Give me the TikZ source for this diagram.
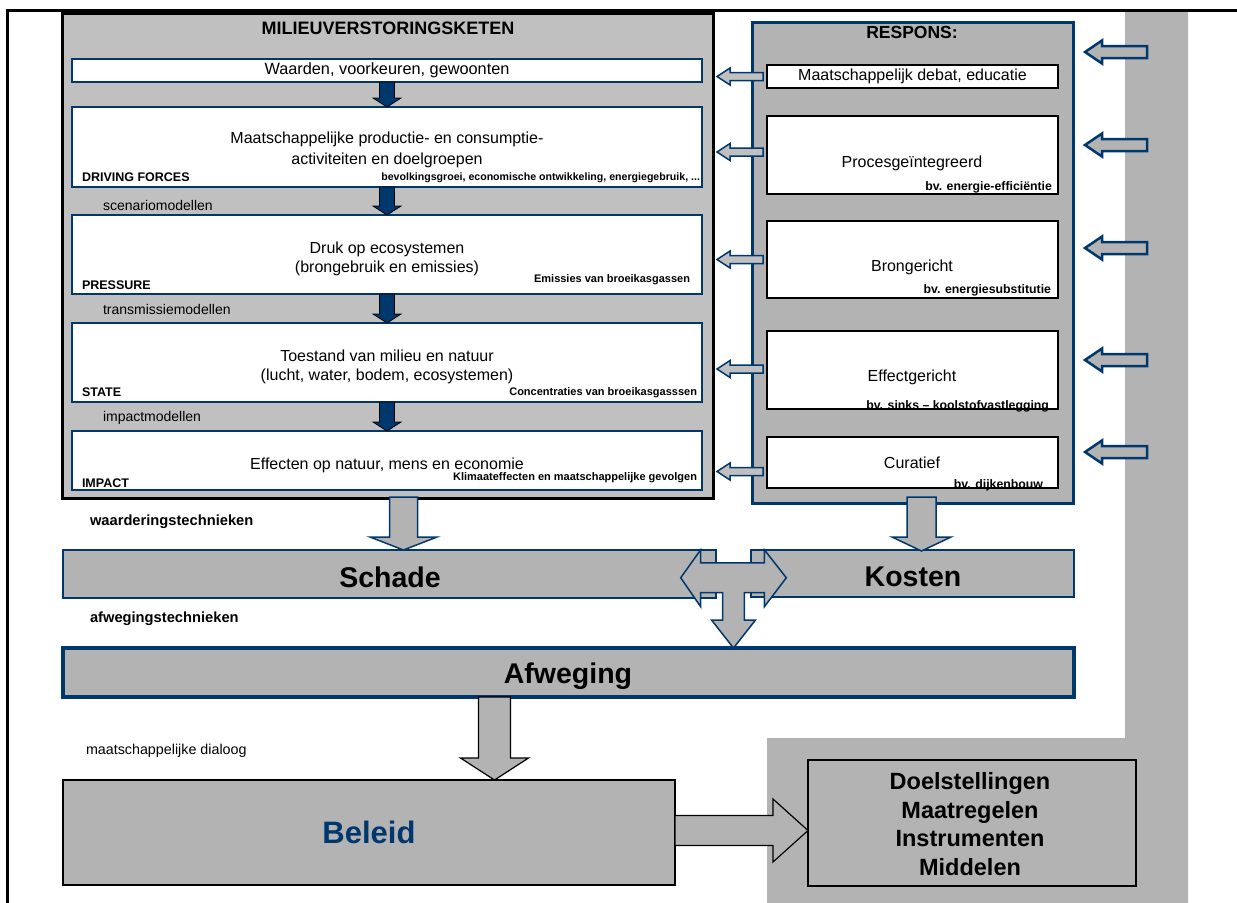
\documentclass[tikz,border=0pt]{standalone}
\usepackage{fontspec}
\setmainfont{Liberation Sans}
\usetikzlibrary{calc}

\definecolor{navy}{RGB}{0,56,110}
\definecolor{panelgray}{RGB}{192,192,192}
\definecolor{midgray}{RGB}{179,179,179}

\newcommand\fsz[2]{\fontsize{#1bp}{#2bp}\selectfont}

% block arrow pointing down: style, start (top centre), tip, half shaft, half head, head length
\newcommand\blockdown[6]{%
  \draw[#1] let \p1=(#2), \p2=(#3) in
    (\x1-#4,\y1) -- (\x1+#4,\y1) -- (\x1+#4,\y2+#6) -- (\x1+#5,\y2+#6) -- (\x1,\y2)
    -- (\x1-#5,\y2+#6) -- (\x1-#4,\y2+#6) -- cycle;}
% block arrow pointing left: style, tail (right end), tip, half shaft, half head, head length
\newcommand\blockleft[6]{%
  \draw[#1] let \p1=(#2), \p2=(#3) in
    (\x1,\y1-#4) -- (\x1,\y1+#4) -- (\x2+#6,\y1+#4) -- (\x2+#6,\y1+#5) -- (\x2,\y1)
    -- (\x2+#6,\y1-#5) -- (\x2+#6,\y1-#4) -- cycle;}
% block arrow pointing right: style, tail (left end), tip, half shaft, half head, head length
\newcommand\blockright[6]{%
  \draw[#1] let \p1=(#2), \p2=(#3) in
    (\x1,\y1-#4) -- (\x1,\y1+#4) -- (\x2-#6,\y1+#4) -- (\x2-#6,\y1+#5) -- (\x2,\y1)
    -- (\x2-#6,\y1-#5) -- (\x2-#6,\y1-#4) -- cycle;}

\tikzset{
  box/.style={draw, inner sep=0pt, outer sep=0pt, anchor=north west},
  chainpanel/.style={box, fill=panelgray, draw=black, line width=3bp},
  responspanel/.style={box, fill=midgray, draw=navy, line width=3bp},
  chainbox/.style={box, fill=white, draw=navy, line width=1.5bp, minimum width=630bp},
  respbox/.style={box, fill=white, draw=black, line width=1.5bp, minimum width=291bp},
  bar/.style={box, fill=midgray, draw=navy, line width=2bp},
  txt/.style={inner sep=0pt, outer sep=0pt, font=\fsz{16}{19}, align=center},
  tag/.style={inner sep=0pt, outer sep=0pt, anchor=west, font=\fsz{12.5}{14}\bfseries},
  note/.style={inner sep=0pt, outer sep=0pt, anchor=east, font=\fsz{11}{13}\bfseries},
  rnote/.style={note, font=\fsz{12.3}{14}\bfseries},
  model/.style={inner sep=0pt, outer sep=0pt, anchor=west, font=\fsz{14}{16}},
  tech/.style={inner sep=0pt, outer sep=0pt, anchor=west, font=\fsz{14.7}{17}\bfseries},
  big/.style={inner sep=0pt, outer sep=0pt, font=\fsz{28.5}{32}\bfseries},
  chainarrow/.style={fill=navy, draw=black, line width=0.8bp},
  backarrow/.style={fill=panelgray, draw=navy, line width=1.5bp},
  inarrow/.style={fill=midgray, draw=navy, line width=2.5bp},
  flowarrow/.style={fill=midgray, draw=navy, line width=1.5bp, line join=miter},
  blackarrow/.style={fill=midgray, draw=black, line width=1.2bp, line join=miter},
}

\begin{document}
\begin{tikzpicture}[x=1bp, y=-1bp]
\useasboundingbox (0,0) rectangle (1237,903);

% grey band on the right that runs down into the lower block
\fill[midgray] (1125,12) -- (1188,12) -- (1188,903) -- (767,903) -- (767,738) -- (1125,738) -- cycle;

% outer frame
\draw[line width=3bp] (7,903) -- (7,10) -- (1237,10);

% ---------------- chain of environmental disturbance ----------------
\node[chainpanel, minimum width=651bp, minimum height=485bp] (chain) at (62,13) {};
\node[txt, font=\fsz{18}{20}\bfseries] (chaintitle) at (388,28) {MILIEUVERSTORINGSKETEN};

\node[chainbox, minimum height=23bp] (waarden) at (72,59) {};
\node[chainbox, minimum height=80bp] (driving) at (72,107) {};
\node[chainbox, minimum height=79bp] (pressure) at (72,215) {};
\node[chainbox, minimum height=79bp] (state) at (72,323) {};
\node[chainbox, minimum height=59bp] (impact) at (72,431) {};

\node[txt, font=\fsz{16.3}{19}] (waardentxt) at (waarden.center) {Waarden, voorkeuren, gewoonten};

\node[txt, font=\fsz{16}{21}] (drivingtxt) at (387,150) {Maatschappelijke productie- en consumptie-\\activiteiten en doelgroepen};
\node[tag] (drivingtag) at (82,177) {DRIVING FORCES};
\node[note, font=\fsz{10.6}{12}\bfseries] (drivingnote) at (700,178) {bevolkingsgroei, economische ontwikkeling, energiegebruik, ...};

\node[txt] (pressuretxt) at (387,259) {Druk op ecosystemen\\(brongebruik en emissies)};
\node[tag] (pressuretag) at (82,285) {PRESSURE};
\node[note] (pressurenote) at (690,280) {Emissies van broeikasgassen};

\node[txt] (statetxt) at (387,367) {Toestand van milieu en natuur\\(lucht, water, bodem, ecosystemen)};
\node[tag] (statetag) at (82,392) {STATE};
\node[note] (statenote) at (697,393) {Concentraties van broeikasgasssen};

\node[txt] (impacttxt) at (387,465) {Effecten op natuur, mens en economie};
\node[tag] (impacttag) at (82,483) {IMPACT};
\node[note] (impactnote) at (697,478) {Klimaateffecten en maatschappelijke gevolgen};

\node[model] (scen) at (103,205) {scenariomodellen};
\node[model] (trans) at (103,309) {transmissiemodellen};
\node[model] (impm) at (103,418) {impactmodellen};

\blockdown{chainarrow}{waarden.south}{driving.north}{7.5bp}{14bp}{9bp}
\blockdown{chainarrow}{driving.south}{pressure.north}{7.5bp}{14bp}{9bp}
\blockdown{chainarrow}{pressure.south}{state.north}{7.5bp}{14bp}{9bp}
\blockdown{chainarrow}{state.south}{impact.north}{7.5bp}{14bp}{9bp}

% ---------------- response panel ----------------
\node[responspanel, minimum width=321bp, minimum height=481bp] (respons) at (752,22) {};
\node[txt, font=\fsz{17.5}{20}\bfseries] (resptitle) at (912,32) {RESPONS:};

\node[respbox, minimum height=23bp] (debat) at (767,65) {};
\node[respbox, minimum height=78bp] (proc) at (767,116) {};
\node[respbox, minimum height=77bp] (brong) at (767,221) {};
\node[respbox, minimum height=78bp] (effect) at (767,331) {};
\node[respbox, minimum height=51bp] (curatief) at (767,437) {};

\node[txt] (debattxt) at (debat.center) {Maatschappelijk debat, educatie};
\node[txt] (proctxt) at (912,163) {Procesgeïntegreerd};
\node[rnote] (procnote) at (1052,187) {bv. energie-efficiëntie};
\node[txt] (brongtxt) at (912,267) {Brongericht};
\node[rnote] (brongnote) at (1051,290) {bv. energiesubstitutie};
\node[txt] (effecttxt) at (912,377) {Effectgericht};
\node[rnote, anchor=base east] (effectnote) at (1049,409) {bv. sinks – koolstofvastlegging};
\draw[black, line width=1.5bp] (effect.south west) -- (effect.south east);
\node[txt] (curatieftxt) at (912,463) {Curatief};
\node[rnote, anchor=base east] (curatiefnote) at (1043,488) {bv. dijkenbouw};
\draw[black, line width=1.5bp] (curatief.south west) -- (curatief.south east);

% arrows from the response measures back to the chain
\coordinate (b1) at ($(debat.west)+(-4,0)$);
\coordinate (b2) at ($(proc.west)+(-4,-3)$);
\coordinate (b3) at ($(brong.west)+(-4,0)$);
\coordinate (b4) at ($(effect.west)+(-4,-1)$);
\coordinate (b5) at ($(curatief.west)+(-4,9)$);
\foreach \b in {b1,b2,b3,b4,b5}{
  \blockleft{backarrow}{\b}{$(chain.east |- \b)+(4,0)$}{4bp}{8.5bp}{13bp}
}

% arrows entering the response panel from the grey band
\foreach \yy [count=\i] in {52,145,248,360,452}{
  \coordinate (r\i) at (1147,\yy);
  \blockleft{inarrow}{r\i}{$(respons.east |- r\i)+(12,0)$}{6bp}{11.5bp}{17bp}
}

% ---------------- valuation ----------------
\node[bar, minimum width=653bp, minimum height=48bp] (schade) at (63,550) {};
\node[bar, minimum width=323bp, minimum height=47bp] (kosten) at (751,550) {};
\node[big] (schadetxt) at (390,577) {Schade};
\node[big] (kostentxt) at (913,577) {Kosten};

\node[tech] (waard) at (90,522) {waarderingstechnieken};
\node[tech] (afw) at (90,619) {afwegingstechnieken};

\coordinate (impactout) at ($(chain.south)+(16,-1)$);
\blockdown{flowarrow}{impactout}{$(schade.north -| impactout)$}{14bp}{33.5bp}{13bp}
\coordinate (respout) at ($(respons.south -| kosten.north)+(9,-6)$);
\blockdown{flowarrow}{respout}{$(kosten.north -| respout)+(0,1)$}{14.5bp}{29.5bp}{14bp}

\node[bar, line width=3.5bp, minimum width=1011bp, minimum height=49bp] (afweging) at (63,648) {};
\node[big] (afwegingtxt) at (568,676) {Afweging};

% combined two-way / downward arrow between damage and cost
\coordinate (tc) at ($(schade.east)!0.5!(kosten.west)+(0,4)$);
\draw[flowarrow] let \p0=(tc), \p1=(afweging.north) in
  (\x0-53,\y0) -- (\x0-33,\y0+28) -- (\x0-33,\y0+15) -- (\x0+31,\y0+15) -- (\x0+31,\y0+28)
  -- (\x0+53,\y0) -- (\x0+31,\y0-29) -- (\x0+31,\y0-15) -- (\x0+11,\y0-15) -- (\x0+11,\y1+28)
  -- (\x0+22,\y1+28) -- (\x0,\y1) -- (\x0-22,\y1+28) -- (\x0-11,\y1+28) -- (\x0-11,\y0-15)
  -- (\x0-33,\y0-15) -- (\x0-33,\y0-29) -- cycle;

% ---------------- policy ----------------
\node[model, font=\fsz{14.3}{16}] (dialoog) at (86,751) {maatschappelijke dialoog};
\node[box, fill=midgray, draw=black, line width=1.2bp, minimum width=612bp, minimum height=105bp] (beleid) at (63,780) {};
\node[big, text=navy, font=\fsz{31}{34}\bfseries] (beleidtxt) at (beleid.center) {Beleid};

\node[box, fill=midgray, draw=black, line width=1.5bp, minimum width=328bp, minimum height=126bp] (doel) at (808,760) {};
\node[txt, font=\fsz{23.5}{28.5}\bfseries] (doeltxt) at (970,824) {Doelstellingen\\Maatregelen\\Instrumenten\\Middelen};

\coordinate (afwout) at ($(afweging.south)+(-74,0)$);
\blockdown{blackarrow}{afwout}{$(beleid.north -| afwout)$}{16bp}{34bp}{22bp}
\coordinate (beleidout) at ($(beleid.east)+(0,-2)$);
\blockright{blackarrow}{beleidout}{$(doel.west |- beleidout)$}{15bp}{31.5bp}{35bp}

\end{tikzpicture}
\end{document}
